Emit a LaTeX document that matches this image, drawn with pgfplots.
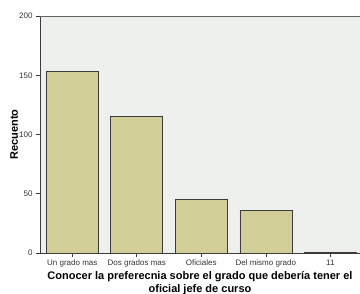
\documentclass[border=0pt]{standalone}
\usepackage{pgfplots}
\pgfplotsset{compat=1.18}
\usepackage{fontspec}
\setmainfont{Liberation Sans}
\definecolor{barfill}{RGB}{210,206,152}
\definecolor{bgfill}{RGB}{238,240,238}
\definecolor{edge}{RGB}{60,60,60}
\begin{document}
\begin{tikzpicture}[x=1pt,y=1pt]
\begin{axis}[
  at={(0,0)}, anchor=south west,
  scale only axis, width=320pt, height=237pt,
  xmin=-0.5, xmax=4.46, ymin=0, ymax=200,
  axis background/.style={fill=bgfill},
  axis x line*=bottom, axis y line*=left,
  axis line style={edge, line width=0.9pt, -},
  xtick={0,1,2,3,4},
  xticklabels={Un grado mas, Dos grados mas, Oficiales, Del mismo grado, 11},
  ytick={0,50,100,150,200},
  tick align=outside, major tick length=4pt,
  tick style={edge, line width=0.6pt},
  tick label style={font=\fontsize{8}{9.5}\selectfont, text=black!80},
  /pgf/number format/assume math mode=true,
  xticklabel style={yshift=1pt},
  ylabel={\bfseries Recuento},
  every axis y label/.style={at={(axis description cs:-0.081,0.5)}, anchor=center, rotate=90, font=\fontsize{11}{13}\selectfont},
  xlabel={\bfseries Conocer la preferecnia sobre el grado que debería tener el\\\bfseries oficial jefe de curso},
  every axis x label/.style={at={(axis description cs:0.5,0)}, anchor=north, yshift=-15pt, font=\fontsize{11}{12.5}\selectfont, align=center},
  ybar, bar width=52pt,
  clip=false,
]
\addplot[draw=edge, fill=barfill, line width=0.6pt] coordinates {(0,153) (1,115) (2,45) (3,36) (4,1)};
\draw[edge!80, line width=0.9pt] (rel axis cs:0,1) -- (rel axis cs:1,1);
\end{axis}
\pgfresetboundingbox
\path[use as bounding box] (-40pt,-40pt) rectangle (320pt,253pt);
\end{tikzpicture}
\end{document}
